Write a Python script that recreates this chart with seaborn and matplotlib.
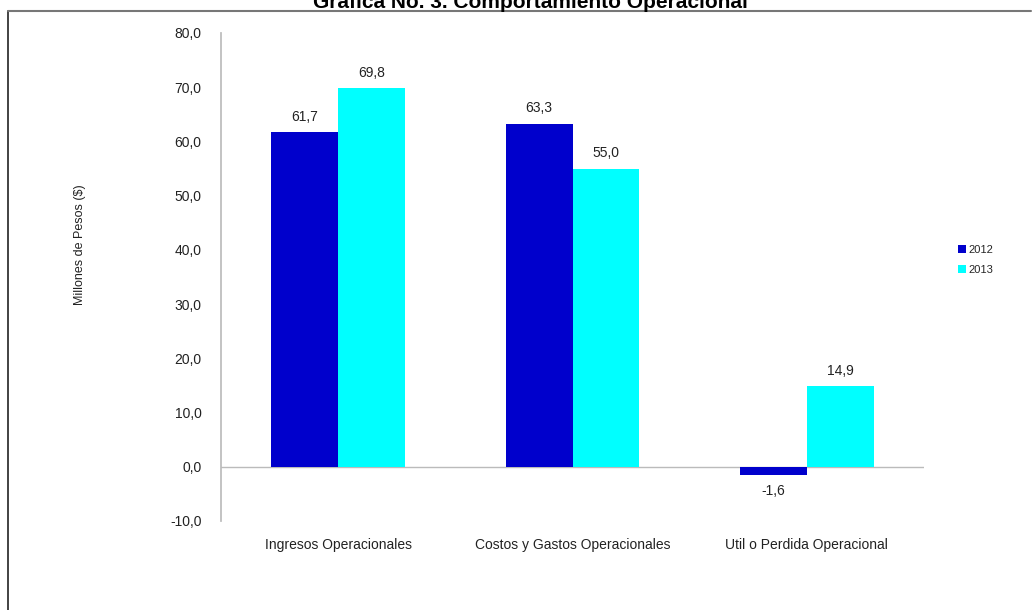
import pandas as pd
import matplotlib
matplotlib.use('Agg')
import matplotlib.pyplot as plt
from matplotlib.lines import Line2D
import seaborn as sns

# Chart values
categories = ['Ingresos Operacionales', 'Costos y Gastos Operacionales', 'Util o Perdida Operacional']
years = ['2012', '2013']
values_2012 = [61.7, 63.3, -1.6]
values_2013 = [69.8, 55.0, 14.9]
yticks = [-10, 0, 10, 20, 30, 40, 50, 60, 70, 80]
colors = {'2012': '#0000CC', '2013': '#00FFFF'}

df = pd.DataFrame({
    'categoria': categories * 2,
    'anio': [years[0]] * 3 + [years[1]] * 3,
    'valor': values_2012 + values_2013,
})

sns.set_theme(style="white")
plt.rcParams['font.family'] = ['Liberation Sans', 'DejaVu Sans']

fig = plt.figure(figsize=(10.32, 6.1), dpi=100)
ax = fig.add_axes([221 / 1032, 1 - 521 / 610, (924 - 221) / 1032, (521 - 33) / 610])

sns.barplot(data=df, x='categoria', y='valor', hue='anio', palette=colors,
            width=0.57, order=categories, hue_order=years, ax=ax, saturation=1,
            linewidth=0, edgecolor='none')

for cont in ax.containers:
    labs = [f"{v:.1f}".replace('.', ',') for v in cont.datavalues]
    ax.bar_label(cont, labels=labs, padding=6, fontsize=10, color='#222222')

ax.set_xlim(-0.5, 2.5)
ax.set_ylim(-10, 80)
ax.set_yticks(yticks)
ax.set_yticklabels([f"{t:.1f}".replace('.', ',') for t in yticks], fontsize=10, color='#222222')
ax.tick_params(axis='both', length=0)
ax.tick_params(axis='x', pad=12, labelsize=10, labelcolor='#222222')
ax.tick_params(axis='y', pad=14)
ax.set_xlabel('')
ax.set_ylabel('')

for s in ['top', 'right', 'bottom']:
    ax.spines[s].set_visible(False)
ax.spines['left'].set_color('#BBBBBB')
ax.axhline(0, color='#BBBBBB', lw=1, zorder=0)

fig.text(80 / 1032, 1 - 245 / 610, 'Millones de Pesos ($)', rotation=90,
         ha='center', va='center', fontsize=9, color='#222222')

leg = ax.legend(loc='center left', bbox_to_anchor=(948 / 1032, 1 - 260 / 610),
                bbox_transform=fig.transFigure, frameon=False, fontsize=8,
                handlelength=0.7, handleheight=0.7, handletextpad=0.2, labelspacing=0.9)

# title (partly cut at the top, as in the source) and frame lines
fig.text(530 / 1032, 1 - 8 / 610, 'Grafica No. 3. Comportamiento Operacional',
         ha='center', va='baseline', fontsize=15, fontweight='bold', color='black')
fig.add_artist(Line2D([8 / 1032, 8 / 1032], [0, 1 - 11 / 610], transform=fig.transFigure,
                      color='#222222', lw=1.2))
fig.add_artist(Line2D([8 / 1032, 1031 / 1032], [1 - 11 / 610, 1 - 11 / 610],
                      transform=fig.transFigure, color='#777777', lw=1.5))

fig.savefig('out.png', dpi=100)
